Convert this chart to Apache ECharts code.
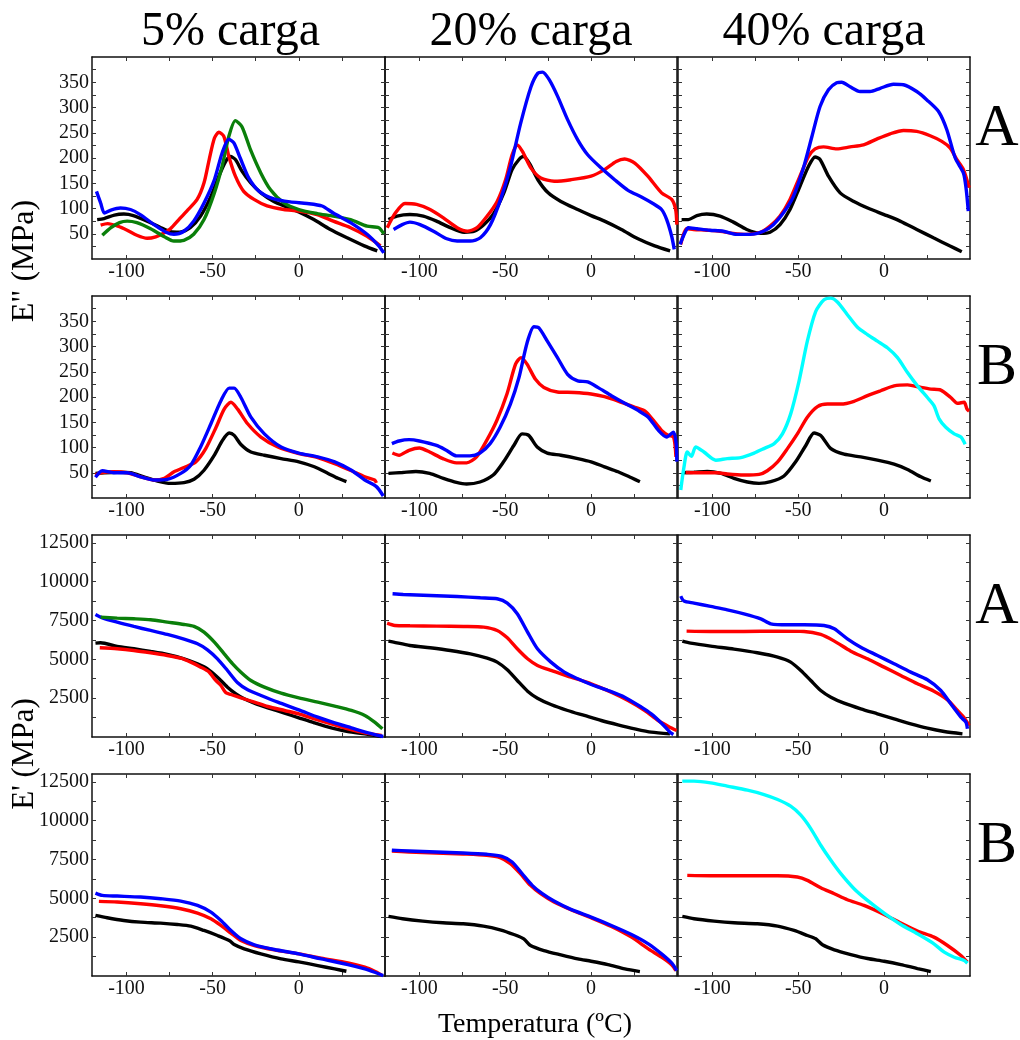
<!DOCTYPE html>
<html><head><meta charset="utf-8">
<script src="https://cdn.jsdelivr.net/npm/echarts@6/dist/echarts.min.js"></script>
<style>html,body{margin:0;padding:0;background:#fff}#c{width:1020px;height:1040px}</style>
</head><body><div id="c"></div>
<script>
// ---------- labels ----------
const colTitles = ['5% carga', '20% carga', '40% carga'];
const rowLetters = ['A', 'B', 'A', 'B'];
const yTitleLoss = 'E" (MPa)';
const yTitleStorage = "E' (MPa)";
const xTitle = 'Temperatura (ºC)';
const xLabelValues = [-100, -50, 0];
const xTickValues = [-100, -75, -50, -25, 0, 25];
const yLabelsLoss = [50, 100, 150, 200, 250, 300, 350];
const yTicksLoss = [25, 50, 75, 100, 125, 150, 175, 200, 225, 250, 275, 300, 325, 350, 375];
const yLabelsStorage = [2500, 5000, 7500, 10000, 12500];
const yTicksStorage = [1250, 2500, 3750, 5000, 6250, 7500, 8750, 10000, 11250, 12500];

// ---------- Row 1 (E'' , A) ----------
const r1c1Black = [[-117,78],[-113,80],[-107,87],[-101.5,89],[-96,86],[-88,75],[-80,62],[-74.5,54],[-69,53],[-63,62],[-57,85],[-51,124],[-46.4,164],[-42.5,193],[-39.7,203],[-36.8,197],[-33,174],[-28,151],[-22,131],[-14.5,114],[-7,103],[0,93],[8.7,78],[18,59],[28,42],[38,26],[45.5,16]];
const r1c1Red = [[-115,67],[-111,70],[-105,65],[-99.6,57],[-94,47],[-88,41],[-83,44],[-78,52],[-74.5,60],[-69.6,78],[-65,95],[-59,118],[-55,151],[-52,197],[-49,239],[-46.4,251],[-43.5,243],[-40.6,203],[-36.8,164],[-32,134],[-26,118],[-18.4,105],[-8.7,98],[0,95],[10.6,88],[20,75],[30,62],[39.6,45],[47.4,26]];
const r1c1Blue = [[-117.4,134],[-115,111],[-112.8,91],[-109,97],[-103.5,101],[-97.7,98],[-92,88],[-84,68],[-77,53],[-72.5,49],[-66.7,55],[-61,75],[-55,111],[-49,157],[-44.5,210],[-40.6,237],[-37.7,230],[-34,200],[-29,160],[-23,134],[-14.5,119],[-5,113],[4.8,110],[13.5,105],[20,91],[30,72],[39.6,49],[46.4,26],[49.3,12]];
const r1c1Green = [[-114,47],[-109,62],[-104,72],[-99.6,75],[-94,72],[-86,60],[-78,44],[-72.5,35.5],[-66.7,37],[-61,49],[-55,78],[-49,131],[-44.5,184],[-40.6,243],[-36.8,274],[-33,262],[-28,216],[-22,170],[-16.4,137],[-8.7,111],[0,98],[10.6,90],[20,85],[30,78],[39.6,65],[46.4,62],[49.3,50]];

const r1c2Black = [[-118,78],[-113,85],[-105.5,88],[-97.7,85],[-90,75],[-82,62],[-74,53],[-68,55],[-62.5,68],[-56.6,91],[-50.8,131],[-46,177],[-42,197],[-39.5,203],[-36,190],[-31,157],[-25,131],[-17.6,114],[-7.8,98],[0,86],[7.8,75],[17.6,58.5],[27.3,40],[37,26],[46,16]];
const r1c2Red = [[-118.7,62],[-114,91],[-108.4,110],[-101.6,108],[-93.75,98],[-86,81.5],[-78,62],[-72,55],[-66.4,62],[-60.5,85],[-54.7,114],[-49.8,157],[-46,206.5],[-43,226],[-40,213],[-35,180],[-29.3,160.5],[-21.5,154],[-11.7,157],[0,164],[7.8,177],[14.6,193],[19.5,198],[25.4,190],[33,164],[41,131],[46.9,118],[49.2,98],[49.9,68]];
const r1c2Blue = [[-115,58.5],[-110,68],[-105.5,73],[-99.6,68],[-91.8,55],[-84,40],[-78,35.5],[-70.3,35.5],[-64.5,42],[-58.6,68],[-52.7,118],[-46.9,183.5],[-41,269],[-35,341],[-31,368],[-28.3,370],[-24.4,355],[-19.5,322],[-13.7,276],[-7.8,236],[-2,206.5],[5.9,180],[13.7,157],[21.5,136],[29.3,123],[36,110],[41,98],[44,78],[46.9,45],[48.4,19]];

const r1c3Black = [[-117.9,78],[-114,78],[-109,86],[-103.3,89],[-95.5,85],[-87.8,73],[-80,58.5],[-72,50.7],[-66.4,53],[-60.6,68],[-54.8,98],[-49,144],[-44,183.5],[-40.2,202],[-37.3,197],[-32.4,164],[-25.6,131],[-17.9,114.5],[-8.2,99],[0,88],[9.3,75],[19,58.5],[28.7,42],[38.4,25.7],[45.2,14.5]];
const r1c3Red = [[-118.4,29],[-115,60],[-111,58.5],[-103.3,57],[-95.5,55],[-87.8,50.7],[-80,48.7],[-72,53],[-66.4,65],[-60.6,85],[-54.8,118],[-49,164],[-44,203],[-40.2,218],[-35.3,222],[-27.6,218],[-19.8,222],[-12,226],[-4.3,237.5],[3.5,248],[11.3,254.6],[19,252.6],[26.8,244],[33.6,233],[38.4,220],[42.3,197],[46.2,177],[49.5,141]];
const r1c3Blue = [[-118.8,29],[-116,52],[-114,62],[-109,60],[-101.4,57],[-93.6,55],[-85.8,48.7],[-78,48.7],[-70.3,55],[-64.5,68],[-58.6,91.4],[-52.8,124],[-47,180],[-42,243],[-37.3,302],[-32.4,335],[-27.6,349],[-24.7,350],[-19.8,341],[-14,331.6],[-8.2,331.6],[-2.3,338],[5.4,346],[11.3,345],[19,331.6],[24.9,315],[31.7,292],[36.5,256],[41.4,200],[46.2,170],[47.8,137.5],[49,94.7]];

// ---------- Row 2 (E'' , B) ----------
const r2c1Black = [[-118,48.7],[-113,50],[-105.4,51],[-97.7,50],[-90,42],[-82,33.6],[-74.4,29],[-66.6,30.4],[-60.8,37],[-55,55],[-49,84.7],[-44.3,114],[-40.4,128.6],[-37.5,124],[-33.6,106],[-27.8,91],[-20,84.7],[-10.3,78],[0,71.6],[9,61.8],[17,48.7],[22.7,39],[27.6,32.3]];
const r2c1Red = [[-118,45],[-115,50],[-107.4,52],[-99.6,50],[-91.8,42],[-84,35.6],[-78,39],[-72.4,52],[-66.6,60.5],[-59.8,71.6],[-54,97.8],[-48,140],[-43.3,176],[-39.4,189.5],[-35.5,176],[-29.7,147],[-22,120.7],[-12.2,101],[0,88],[11,80],[20.8,68],[30.5,54],[38.3,42],[44,35.6],[45,30]];
const r2c1Blue = [[-118,41],[-114,54],[-107.4,50],[-99.6,50],[-91.8,42],[-84,35.6],[-76.3,37],[-68.5,48.7],[-62.7,65],[-57,101],[-51,147],[-45.2,192.7],[-40.4,217.6],[-37.5,217.6],[-33.6,199],[-27.8,160],[-20,127],[-10.3,101],[0,89],[11,81.4],[20.8,71.6],[30.5,55],[38.3,35.6],[45,22.5],[49,4]];

const r2c2Black = [[-118,48.7],[-109.8,50.6],[-102,52.6],[-94,48.7],[-86,39],[-78.4,31],[-72.5,27.7],[-64.7,31.7],[-57,45.4],[-51,71.6],[-45,104],[-40.2,127],[-36.3,124],[-31.4,101],[-25.5,89],[-17.6,84.7],[-7.8,78],[0,71.6],[7.8,61.8],[15.7,52],[23.5,40],[28.4,32.3]];
const r2c2Red = [[-115.7,89],[-111.8,84.7],[-106,94.5],[-100,99],[-94,91],[-86.3,78],[-78.4,69.6],[-72.5,69.6],[-66.7,81.4],[-60.8,114],[-54.9,153.5],[-49,206],[-44,265],[-40.8,278],[-37.3,265],[-32.4,235],[-27.5,219],[-19.6,210],[-9.8,209],[0,206],[7.8,200.6],[17.6,189.5],[25.5,179.7],[31.4,172],[36.3,153.5],[41,134],[45,124],[48,120.7],[49.4,81.4]];
const r2c2Blue = [[-116,107.6],[-111.8,112.9],[-106,115.5],[-100,112.9],[-90,104],[-84.3,94.5],[-78.4,83.4],[-70.6,83.4],[-64.7,89],[-58.8,107.6],[-53,140],[-47,186],[-42,238.6],[-37.3,307],[-33.3,339],[-30.4,336.8],[-25.5,310.6],[-19.6,278],[-13.7,245],[-7.8,232],[-2,230],[3.9,219],[11.8,202.6],[19.6,187.5],[27.5,173],[33.3,160],[39.2,134],[44,120.7],[48,130.5],[49.5,107.6],[49.9,72]];

const r2c3Black = [[-117.5,50],[-110.7,51],[-103,52.6],[-95,48.7],[-87.4,39],[-79.6,31.7],[-72.8,29],[-66,32.3],[-58.3,43.5],[-51.5,71.6],[-45.6,104],[-40.8,128.6],[-36.9,124],[-31,97.8],[-23.3,86.7],[-13.6,81.4],[-3.9,75],[5.8,67],[13.6,56.5],[21.4,42],[27.2,33.6]];
const r2c3Red = [[-115.5,50.6],[-106.8,50],[-97,50],[-91.3,47.4],[-81.6,45.4],[-72.8,46.7],[-68,54],[-62,71.6],[-56.3,97.8],[-50.5,127],[-44.7,160],[-38.8,181],[-33,186],[-25.2,186],[-17.5,191.5],[-9.7,202.6],[-2,212.4],[5.8,222],[13.6,224],[21.4,219],[27.2,215.7],[33,213.7],[38.8,199],[42.7,187.5],[46.6,189.5],[48.2,176.4],[49.5,172]];
const r2c3Cyan = [[-118.4,16],[-116.5,61.8],[-114.6,91],[-112.2,82.7],[-109.7,101],[-104.9,91],[-98,74.9],[-91.3,78],[-83.5,80],[-75.7,89],[-70,97.8],[-64,107.6],[-59.2,127],[-54.4,166.6],[-49.5,232],[-44.7,310.6],[-39.8,369.6],[-35,392.5],[-31,395.8],[-27.2,388],[-21.4,363],[-15.5,338],[-9.7,323.7],[-3.9,310.6],[1.9,297.5],[7.8,278],[13.6,248.4],[19.4,222],[25.2,199],[29,183],[32,156.7],[35.9,140],[40.8,127],[44.7,120.7],[47.2,106.3]];

// ---------- Row 3 (E' , A) ----------
const r3c1Black = [[-118,6041],[-115,6062],[-105.4,5826],[-95.7,5676],[-86,5504],[-76.3,5311],[-66.6,5032],[-58.8,4710],[-53,4389],[-47.2,3852],[-41.4,3208],[-36.5,2779],[-31.7,2457],[-25.8,2178],[-18,1878],[-8.3,1534],[0,1234],[9,912],[18.8,590],[28.5,354],[38.3,204],[48,32]];
const r3c1Red = [[-115.5,5740],[-105.4,5676],[-95.7,5569],[-86,5419],[-76.3,5247],[-68.5,5075],[-62.7,4818],[-56.9,4496],[-52,4174],[-48.2,3637],[-45.2,3315],[-42.3,2843],[-39.4,2736],[-33.6,2521],[-25.8,2242],[-18,1963],[-8.3,1706],[0,1491],[9,1170],[18.8,848],[28.5,526],[38.3,268],[48,96]];
const r3c1Blue = [[-118,7887],[-114,7672],[-105.4,7393],[-95.7,7114],[-86,6856],[-76.3,6599],[-66.6,6298],[-58.8,5998],[-53,5612],[-47.2,5032],[-41.4,4281],[-35.5,3487],[-29.7,3037],[-21.9,2672],[-12.2,2242],[0,1749],[11,1277],[20.8,912],[30.5,590],[40.2,268],[49,32]];
const r3c1Green = [[-115,7715],[-105.4,7650],[-95.7,7607],[-86,7543],[-76.3,7393],[-66.6,7243],[-60.8,7114],[-55,6749],[-49,6105],[-43.3,5354],[-38.4,4710],[-33.6,4174],[-27.8,3637],[-20,3208],[-10.3,2822],[0,2521],[11,2242],[20.8,1985],[30.5,1706],[38.3,1384],[44,955],[48.5,526]];

const r3c2Black = [[-118,6170],[-115,6105],[-105.5,5890],[-93.75,5740],[-82,5569],[-70.3,5354],[-60.5,5075],[-54.7,4818],[-48.8,4324],[-43,3637],[-37,2950],[-31.25,2500],[-23.4,2092],[-13.7,1706],[-3.9,1384],[5.9,1062],[15.6,783],[25.4,526],[35,311],[45.9,204]];
const r3c2Red = [[-118.75,7329],[-114.3,7178],[-105.5,7157],[-89.8,7135],[-74.2,7114],[-62.5,7071],[-54.7,6856],[-48.8,6384],[-43,5676],[-37,5032],[-31.25,4603],[-23.4,4281],[-11.7,3852],[0,3423],[11.7,2886],[21.5,2350],[31.25,1706],[39,1062],[45,676],[49.8,418]];
const r3c2Blue = [[-115.6,9217],[-109.4,9174],[-93.75,9110],[-78,9045],[-64.5,8960],[-54.7,8895],[-48.8,8616],[-43,7930],[-37,6749],[-31.25,5676],[-23.4,4818],[-15.6,4174],[-7.8,3745],[0,3380],[9.8,2994],[19.5,2564],[29.3,1921],[35,1491],[41,890],[45.9,311],[47.9,161]];

const r3c3Black = [[-117.5,6170],[-112.6,6041],[-101,5848],[-87.4,5655],[-73.8,5419],[-62,5140],[-54.4,4818],[-48.5,4281],[-42.7,3637],[-36.9,2994],[-31,2564],[-23.3,2178],[-13.6,1813],[-3.9,1491],[5.8,1170],[15.5,848],[25.2,569],[35,354],[45.6,204]];
const r3c3Red = [[-115,6813],[-101,6792],[-81.6,6792],[-62,6813],[-46.6,6792],[-36.9,6599],[-29,6170],[-19.4,5526],[-9.7,5032],[0,4496],[9.7,3959],[19.4,3423],[29,2950],[36.9,2393],[42.7,1706],[46.6,1234],[49.5,740]];
const r3c3Blue = [[-118.4,9067],[-116.5,8745],[-110.7,8616],[-101,8402],[-91.3,8187],[-81.6,7930],[-71.8,7607],[-66,7286],[-56.3,7221],[-46.6,7221],[-35,7178],[-29,6964],[-21.4,6320],[-13.6,5783],[-3.9,5247],[5.8,4710],[15.5,4174],[25.2,3680],[33,2994],[38.8,2135],[44.7,1277],[47.6,955],[48.5,526]];

// ---------- Row 4 (E' , B) ----------
const r4c1Black = [[-118,3898],[-111.2,3747],[-101.6,3575],[-91.8,3468],[-80.2,3403],[-70.5,3317],[-62.7,3210],[-55,2930],[-47.2,2608],[-40.4,2285],[-37.5,2027],[-31.7,1748],[-22,1425],[-10.3,1103],[0,909],[11,672],[20.8,458],[27.6,307]];
const r4c1Red = [[-116,4800],[-105.4,4758],[-91.8,4650],[-80.2,4521],[-68.5,4328],[-58.8,4048],[-51,3683],[-45.2,3253],[-39.4,2758],[-33.6,2285],[-25.8,1963],[-14.2,1683],[0,1425],[13,1146],[28.5,845],[38.3,565],[44,307],[48,71]];
const r4c1Blue = [[-118,5338],[-114,5188],[-105.4,5145],[-91.8,5080],[-80.2,4973],[-68.5,4822],[-58.8,4543],[-51,4113],[-45.2,3575],[-39.4,2930],[-33.6,2393],[-25.8,2006],[-14.2,1705],[0,1425],[13,1103],[28.5,737],[38.3,458],[44,243],[49,28]];

const r4c2Black = [[-118,3833],[-109.8,3683],[-98,3532],[-86.3,3425],[-74.5,3360],[-62.7,3210],[-53,2973],[-45,2672],[-39.2,2393],[-35.3,1963],[-27.5,1640],[-17.6,1360],[-7.8,1103],[0,952],[9.8,737],[19.6,458],[28.4,285]];
const r4c2Red = [[-116,8047],[-105.9,7983],[-90.2,7918],[-74.5,7853],[-60.8,7768],[-53,7617],[-47,7230],[-41.2,6585],[-35.3,5833],[-29.4,5295],[-21.6,4758],[-11.8,4263],[0,3747],[11.8,3188],[23.5,2500],[33.3,1748],[41,1210],[47,715],[49.4,350]];
const r4c2Blue = [[-116,8090],[-105.9,8047],[-90.2,7983],[-74.5,7918],[-60.8,7832],[-52,7703],[-46,7338],[-40.2,6585],[-34.3,5833],[-28.4,5295],[-21.6,4822],[-11.8,4285],[0,3790],[11.8,3253],[23.5,2672],[33.3,2070],[41,1425],[47,823],[49.8,350]];

const r4c3Black = [[-117.5,3833],[-110.7,3683],[-99,3532],[-87.4,3425],[-73.8,3360],[-62,3210],[-52.4,2930],[-44.7,2608],[-39.8,2393],[-35.9,2006],[-29,1683],[-19.4,1382],[-9.7,1124],[0,952],[9.7,737],[19.4,479],[27.2,285]];
const r4c3Red = [[-114.6,6478],[-101,6456],[-81.6,6456],[-62,6456],[-50.5,6370],[-44.7,6155],[-36.9,5682],[-29,5295],[-21.4,4908],[-11.7,4543],[0,3962],[9.7,3403],[19.4,2887],[29,2500],[36.9,1963],[44.7,1318],[48.5,888]];
const r4c3Cyan = [[-117.5,12540],[-110.7,12540],[-101,12433],[-91.3,12218],[-79.6,11960],[-69.9,11680],[-62,11358],[-54.4,10928],[-48.5,10348],[-42.7,9488],[-36.9,8413],[-31,7445],[-25.2,6585],[-17.5,5618],[-9.7,4865],[0,4048],[9.7,3317],[19.4,2715],[29,2070],[35,1533],[40.8,1210],[46.6,995],[48.5,823]];

// ---------- layout ----------
const BLACK = '#000000', RED = '#ff0000', BLUE = '#0000ff', GREEN = '#0a7f0a', CYAN = '#00ffff';
const panels = [
  [[r1c1Black, BLACK], [r1c1Red, RED], [r1c1Green, GREEN], [r1c1Blue, BLUE]],
  [[r1c2Black, BLACK], [r1c2Red, RED], [r1c2Blue, BLUE]],
  [[r1c3Black, BLACK], [r1c3Red, RED], [r1c3Blue, BLUE]],
  [[r2c1Black, BLACK], [r2c1Red, RED], [r2c1Blue, BLUE]],
  [[r2c2Black, BLACK], [r2c2Red, RED], [r2c2Blue, BLUE]],
  [[r2c3Black, BLACK], [r2c3Red, RED], [r2c3Cyan, CYAN]],
  [[r3c1Black, BLACK], [r3c1Red, RED], [r3c1Blue, BLUE], [r3c1Green, GREEN]],
  [[r3c2Black, BLACK], [r3c2Red, RED], [r3c2Blue, BLUE]],
  [[r3c3Black, BLACK], [r3c3Red, RED], [r3c3Blue, BLUE]],
  [[r4c1Black, BLACK], [r4c1Red, RED], [r4c1Blue, BLUE]],
  [[r4c2Black, BLACK], [r4c2Red, RED], [r4c2Blue, BLUE]],
  [[r4c3Black, BLACK], [r4c3Red, RED], [r4c3Cyan, CYAN]]
];
const colLeft = [92, 385, 678];
const colWidth = [293, 292, 292];
const rowTop = [57, 296, 535, 774];
const rowHeight = 202;
const FONT = 'Liberation Serif, Times New Roman, serif';
const axisLineStyle = { show: true, onZero: false, lineStyle: { color: '#111', width: 1.5 } };
const plainNum = v => String(v);

const grid = [], xAxis = [], yAxis = [], series = [];
panels.forEach((lines, i) => {
  const r = Math.floor(i / 3), c = i % 3;
  const loss = r < 2;
  grid.push({ left: colLeft[c], top: rowTop[r], width: colWidth[c], height: rowHeight, containLabel: false });
  const xBase = { type: 'value', gridIndex: i, min: -120, max: 50, splitLine: { show: false }, axisLine: axisLineStyle };
  xAxis.push(Object.assign({}, xBase, {
    position: 'bottom',
    axisTick: { show: true, inside: true, length: 4, customValues: xTickValues, lineStyle: { color: '#333' } },
    axisLabel: { show: true, customValues: xLabelValues, formatter: plainNum, margin: 3, fontFamily: FONT, fontSize: 20, color: '#111' }
  }));
  xAxis.push(Object.assign({}, xBase, {
    position: 'top',
    axisTick: { show: true, inside: true, length: 4, customValues: xTickValues, lineStyle: { color: '#333' } },
    axisLabel: { show: false }
  }));
  const yBase = { type: 'value', gridIndex: i, min: 0, max: loss ? 400 : 13000, splitLine: { show: false }, axisLine: axisLineStyle };
  yAxis.push(Object.assign({}, yBase, {
    position: 'left',
    axisTick: { show: true, inside: true, length: 4, customValues: loss ? yTicksLoss : yTicksStorage, lineStyle: { color: '#333' } },
    axisLabel: { show: c === 0, customValues: loss ? yLabelsLoss : yLabelsStorage, formatter: plainNum, margin: 3, fontFamily: FONT, fontSize: 20, color: '#111' }
  }));
  yAxis.push(Object.assign({}, yBase, {
    position: 'right',
    axisTick: { show: true, inside: true, length: 4, customValues: loss ? yTicksLoss : yTicksStorage, lineStyle: { color: '#333' } },
    axisLabel: { show: false }
  }));
  lines.forEach(([data, color]) => {
    series.push({
      type: 'line', xAxisIndex: 2 * i, yAxisIndex: 2 * i, data: data,
      showSymbol: false, smooth: 0.25, clip: true, silent: true,
      lineStyle: { color: color, width: 3.4 }, itemStyle: { color: color }
    });
  });
});

const graphic = [];
colTitles.forEach((t, c) => {
  graphic.push({ type: 'text', x: colLeft[c] + colWidth[c] / 2 - (c === 0 ? 8 : 0), y: 32,
    style: { text: t, font: '48px ' + FONT, fill: '#000', textAlign: 'center', textVerticalAlign: 'middle' } });
});
rowLetters.forEach((t, r) => {
  graphic.push({ type: 'text', x: 997, y: rowTop[r] + 72,
    style: { text: t, font: '60px ' + FONT, fill: '#000', textAlign: 'center', textVerticalAlign: 'middle' } });
});
graphic.push({ type: 'text', x: 25, y: 261, rotation: Math.PI / 2,
  style: { text: yTitleLoss, font: '32px ' + FONT, fill: '#000', textAlign: 'center', textVerticalAlign: 'middle' } });
graphic.push({ type: 'text', x: 25, y: 754, rotation: Math.PI / 2,
  style: { text: yTitleStorage, font: '31px ' + FONT, fill: '#000', textAlign: 'center', textVerticalAlign: 'middle' } });
graphic.push({ type: 'text', x: 535, y: 1025,
  style: { text: xTitle, font: '28px ' + FONT, fill: '#000', textAlign: 'center', textVerticalAlign: 'middle' } });

const chart = echarts.init(document.getElementById('c'), null, { renderer: 'canvas' });
chart.setOption({ backgroundColor: '#fff', animation: false, grid, xAxis, yAxis, series, graphic });
</script>
</body></html>
